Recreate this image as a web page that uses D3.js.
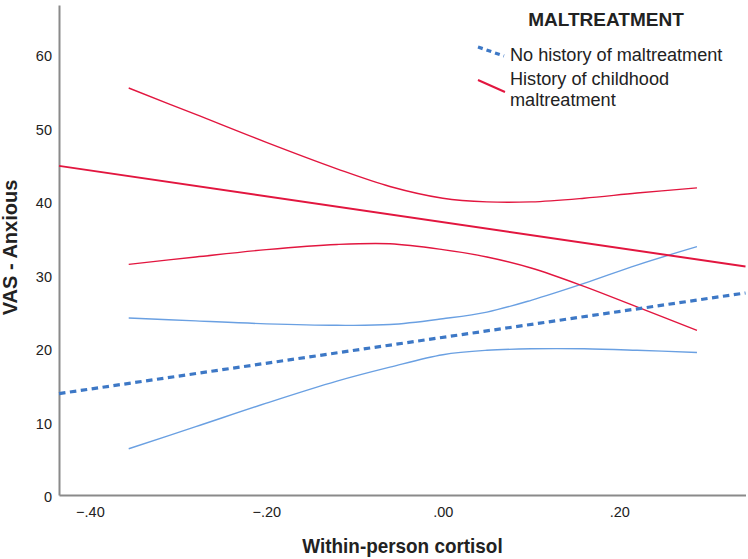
<!DOCTYPE html>
<html>
<head>
<meta charset="utf-8">
<script src="https://cdn.jsdelivr.net/npm/d3@7"></script>
<style>
  html, body { margin: 0; padding: 0; background: #fff; }
  svg { display: block; font-family: "Liberation Sans", Arial, sans-serif; }
</style>
</head>
<body>
<svg id="chart" width="748" height="559"></svg>
<script>
// ---- data ----
const xDomain = [-0.435, 0.343];
const yDomain = [0, 66.7];
const xTicks = [-0.40, -0.20, 0.00, 0.20];
const yTicks = [0, 10, 20, 30, 40, 50, 60];

const ciX = [-0.356, -0.28, -0.20, -0.12, -0.06, 0.00, 0.05, 0.10, 0.16, 0.22, 0.288];
const redUpper  = [55.4, 51.8, 48.0, 44.4, 42.0, 40.4, 39.9, 39.9, 40.4, 41.1, 41.8];
const redLower  = [31.4, 32.4, 33.4, 34.1, 34.2, 33.4, 32.4, 30.9, 28.4, 25.6, 22.4];
const blueUpper = [24.1, 23.7, 23.3, 23.1, 23.2, 24.0, 24.9, 26.5, 28.8, 31.3, 33.8];
const blueLower = [6.3, 9.3, 12.5, 15.5, 17.4, 19.1, 19.7, 19.9, 19.9, 19.7, 19.4];

const fitX = [-0.435, 0.343];
const blueFit = [13.8, 27.5];
const redFit = [44.8, 31.1];

const legendTitle = "MALTREATMENT";
const seriesNames = ["No history of maltreatment", ["History of childhood", "maltreatment"]];
const xTitle = "Within-person cortisol";
const yTitle = "VAS - Anxious";

// ---- styles ----
const blueDark = "#3d78c6";
const blueLight = "#6aa0e2";
const red = "#e2163f";
const axisColor = "#8a8a8a";
const textColor = "#222";

const svg = d3.select("#chart");
const x = d3.scaleLinear().domain(xDomain).range([59, 745.5]);
const y = d3.scaleLinear().domain(yDomain).range([495, 5]);

const fmt = v => d3.format(".2f")(v).replace("0.", ".");

// axes
const xAxis = svg.append("g").attr("transform", "translate(0,495)")
  .call(d3.axisBottom(x).tickValues(xTicks).tickSize(0).tickPadding(12).tickFormat(fmt));
const yAxis = svg.append("g").attr("transform", "translate(59,0)")
  .call(d3.axisLeft(y).tickValues(yTicks).tickSize(0).tickPadding(7).tickFormat(d3.format("d")));
[xAxis, yAxis].forEach(a => {
  a.select(".domain").attr("stroke", axisColor).attr("stroke-width", 2);
  a.selectAll("text").attr("font-size", 14.5).attr("fill", textColor)
    .attr("font-family", "'Liberation Sans', Arial, sans-serif");
});
yAxis.selectAll("text").attr("dy", "0.45em");

// titles
svg.append("text").attr("transform", "translate(402.5,553) scale(0.9,1)")
  .attr("text-anchor", "middle").attr("font-size", 21).attr("font-weight", "bold")
  .attr("fill", textColor).text(xTitle);
svg.append("text").attr("transform", "translate(17,247.5) rotate(-90)")
  .attr("text-anchor", "middle").attr("font-size", 20).attr("font-weight", "bold")
  .attr("fill", textColor).text(yTitle);

// lines
const curve = d3.line().x(d => x(d[0])).y(d => y(d[1])).curve(d3.curveCatmullRom.alpha(0.5));
const zip = (xs, ys) => xs.map((v, i) => [v, ys[i]]);

const plot = svg.append("g");
[blueUpper, blueLower].forEach(vals => {
  plot.append("path").attr("d", curve(zip(ciX, vals)))
    .attr("fill", "none").attr("stroke", blueLight).attr("stroke-width", 1.4);
});
[redUpper, redLower].forEach(vals => {
  plot.append("path").attr("d", curve(zip(ciX, vals)))
    .attr("fill", "none").attr("stroke", red).attr("stroke-width", 1.4);
});
plot.append("path").attr("d", curve(zip(fitX, blueFit)))
  .attr("fill", "none").attr("stroke", blueDark).attr("stroke-width", 3.2)
  .attr("stroke-dasharray", "6.5,4.5");
plot.append("path").attr("d", curve(zip(fitX, redFit)))
  .attr("fill", "none").attr("stroke", red).attr("stroke-width", 2);

// legend
const lg = svg.append("g");
lg.append("text").attr("x", 606).attr("y", 26).attr("text-anchor", "middle")
  .attr("font-size", 19).attr("font-weight", "bold").attr("fill", textColor).text(legendTitle);
lg.append("line").attr("x1", 478).attr("y1", 47).attr("x2", 504).attr("y2", 56)
  .attr("stroke", blueDark).attr("stroke-width", 3.2).attr("stroke-dasharray", "5,4");
lg.append("line").attr("x1", 478).attr("y1", 80).attr("x2", 505).attr("y2", 92)
  .attr("stroke", red).attr("stroke-width", 2);
lg.append("text").attr("transform", "translate(510,61) scale(0.98,1)").attr("font-size", 18.5)
  .attr("fill", textColor).text(seriesNames[0]);
seriesNames[1].forEach((t, i) => {
  lg.append("text").attr("transform", `translate(510,${85 + i * 21}) scale(0.98,1)`)
    .attr("font-size", 18.5).attr("fill", textColor).text(t);
});
</script>
</body>
</html>
